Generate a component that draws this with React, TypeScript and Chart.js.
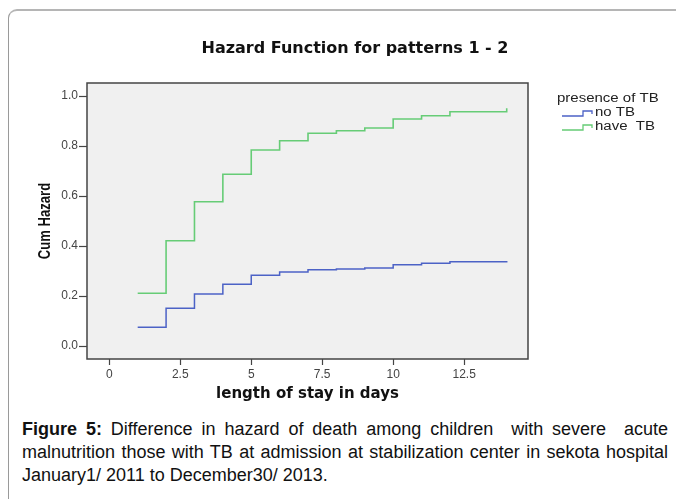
import React, { useEffect, useRef } from "react";
import { Chart, registerables } from "chart.js";
Chart.register(...registerables);

// ---- data ----
const days = [1, 2, 3, 4, 5, 6, 7, 8, 9, 10, 11, 12, 14];
const noTB = [0.075, 0.151, 0.208, 0.247, 0.283, 0.296, 0.305, 0.308, 0.312, 0.325, 0.331, 0.337, 0.34];
const haveTB = [0.211, 0.421, 0.577, 0.687, 0.784, 0.821, 0.851, 0.861, 0.872, 0.908, 0.921, 0.937, 0.951];
const seriesLabels = ["no TB", "have  TB"];
const legendTitle = "presence of TB";
const xTicks = [0, 2.5, 5, 7.5, 10, 12.5];
const xTickLabels = ["0", "2.5", "5", "7.5", "10", "12.5"];
const yTicks = [0, 0.2, 0.4, 0.6, 0.8, 1.0];
const yTickLabels = ["0.0", "0.2", "0.4", "0.6", "0.8", "1.0"];
const chartTitle = "Hazard Function for patterns 1 - 2";
const xTitle = "length of stay in days";
const yTitle = "Cum Hazard";

const COLORS = ["#4c62c6", "#66cc76"];

const bgPlugin = {
  id: "plotBg",
  beforeDraw(chart: any) {
    const { ctx, chartArea: a } = chart;
    ctx.save();
    ctx.fillStyle = "#f0f0f0";
    ctx.fillRect(a.left, a.top, a.right - a.left, a.bottom - a.top);
    ctx.restore();
  },
  afterDatasetsDraw(chart: any) {
    const { ctx, chartArea: a } = chart;
    ctx.save();
    ctx.strokeStyle = "#444";
    ctx.lineWidth = 1.5;
    ctx.strokeRect(a.left, a.top, a.right - a.left, a.bottom - a.top);
    ctx.restore();
  },
};

const textPlugin = {
  id: "texts",
  afterDraw(chart: any) {
    const { ctx, chartArea: a } = chart;
    ctx.save();
    // chart title
    ctx.fillStyle = "#111";
    ctx.textAlign = "center";
    ctx.textBaseline = "middle";
    ctx.font = "bold 16px 'DejaVu Sans', sans-serif";
    ctx.fillText(chartTitle, 355, a.top - 34);
    // y title (narrow, tall)
    ctx.save();
    ctx.translate(45, (a.top + a.bottom) / 2);
    ctx.rotate(-Math.PI / 2);
    ctx.scale(0.77, 1);
    ctx.font = "bold 17px 'Liberation Sans', Arial, sans-serif";
    ctx.fillText(yTitle, 0, 0);
    ctx.restore();

    // legend
    const x0 = a.right + 29;
    const yT = a.top + 16;
    ctx.textAlign = "left";
    ctx.fillStyle = "#222";
    ctx.font = "12px 'Liberation Sans', Arial, sans-serif";
    ctx.save();
    ctx.translate(x0, yT);
    ctx.scale(1.25, 1);
    ctx.fillText(legendTitle, 0, 0);
    ctx.restore();
    chart.data.datasets.forEach((ds: any, i: number) => {
      const cy = yT + 14 + i * 14;
      const ix = x0 + 5;
      ctx.strokeStyle = ds.borderColor;
      ctx.lineWidth = 1.3;
      ctx.beginPath();
      ctx.moveTo(ix, cy + 3);
      ctx.lineTo(ix + 21, cy + 3);
      ctx.lineTo(ix + 21, cy - 2);
      ctx.lineTo(ix + 30, cy - 2);
      ctx.lineTo(ix + 30, cy + 1);
      ctx.stroke();
      ctx.save();
      ctx.translate(ix + 33, cy);
      ctx.scale(1.25, 1);
      ctx.fillText(ds.label, 0, 0);
      ctx.restore();
    });
    ctx.restore();
  },
};

export default function App() {
  const ref = useRef<HTMLCanvasElement>(null);
  useEffect(() => {
    if (!ref.current) return;
    const tickFont = { family: "'Liberation Sans', Arial, sans-serif", size: 12 };
    const chart = new Chart(ref.current, {
      type: "line",
      data: {
        datasets: [
          {
            label: seriesLabels[0],
            data: days.map((d, i) => ({ x: d, y: noTB[i] })),
            borderColor: COLORS[0],
            borderWidth: 1.5,
            pointRadius: 0,
            stepped: "before",
            fill: false,
          },
          {
            label: seriesLabels[1],
            data: days.map((d, i) => ({ x: d, y: haveTB[i] })),
            borderColor: COLORS[1],
            borderWidth: 1.6,
            pointRadius: 0,
            stepped: "before",
            fill: false,
          },
        ],
      },
      options: {
        responsive: false,
        animation: false,
        devicePixelRatio: 1,
        layout: { padding: { left: 0, right: 148, top: 83, bottom: 0 } },
        plugins: {
          legend: { display: false },
          tooltip: { enabled: false },
          title: { display: false },
        },
        scales: {
          x: {
            type: "linear",
            min: -0.786,
            max: 14.75,
            afterBuildTicks: (s: any) => {
              s.ticks = xTicks.map((v) => ({ value: v }));
            },
            afterFit: (s: any) => {
              s.height = 51;
            },
            ticks: {
              callback: (_v: any, i: number) => xTickLabels[i],
              color: "#444",
              font: tickFont,
              padding: 2,
              maxRotation: 0,
              autoSkip: false,
            },
            grid: { drawOnChartArea: false, tickLength: 6, color: "#444", tickWidth: 1.2 },
            border: { display: false },
            title: {
              display: true,
              text: xTitle,
              color: "#111",
              font: { family: "'DejaVu Sans', sans-serif", weight: "bold", size: 15 },
              padding: { top: 0, bottom: 7 },
            },
          },
          y: {
            type: "linear",
            min: -0.052,
            max: 1.052,
            afterBuildTicks: (s: any) => {
              s.ticks = yTicks.map((v) => ({ value: v }));
            },
            afterFit: (s: any) => {
              s.width = 87;
            },
            ticks: {
              callback: (_v: any, i: number) => yTickLabels[i],
              color: "#444",
              font: tickFont,
              padding: 1,
              autoSkip: false,
            },
            grid: { drawOnChartArea: false, tickLength: 8, color: "#444", tickWidth: 1.2 },
            border: { display: false },
            title: { display: false },
          },
        },
      },
      plugins: [bgPlugin, textPlugin],
    } as any);
    return () => chart.destroy();
  }, []);

  const captionFont = "'Liberation Sans', Arial, sans-serif";
  const lineStyle: React.CSSProperties = {
    height: 23,
    lineHeight: "23px",
    whiteSpace: "nowrap",
  };
  return (
    <div style={{ position: "relative", width: 676, height: 499, overflow: "hidden", background: "#fff" }}>
      <style>{"body{margin:0;overflow:hidden}"}</style>
      <div
        style={{
          position: "absolute",
          left: 8,
          top: 9,
          width: 720,
          height: 540,
          borderTop: "2px solid #b5b5b5",
          borderLeft: "1px solid #9a9a9a",
          borderTopLeftRadius: 9,
        }}
      />
      <canvas ref={ref} width={676} height={410} style={{ position: "absolute", left: 0, top: 0, width: 676, height: 410 }} />
      <div
        style={{
          position: "absolute",
          left: 22,
          top: 418,
          width: 646,
          fontFamily: captionFont,
          fontSize: 18,
          color: "#111",
        }}
      >
        <div style={{ ...lineStyle, textAlign: "justify", textAlignLast: "justify", whiteSpace: "normal" }}>
          <b>Figure 5:</b> Difference in hazard of death among children&nbsp; with severe&nbsp; acute
        </div>
        <div style={{ ...lineStyle, textAlign: "justify", textAlignLast: "justify", whiteSpace: "normal" }}>
          malnutrition those with TB at admission at stabilization center in sekota hospital
        </div>
        <div style={lineStyle}>January1/ 2011 to December30/ 2013.</div>
      </div>
    </div>
  );
}
